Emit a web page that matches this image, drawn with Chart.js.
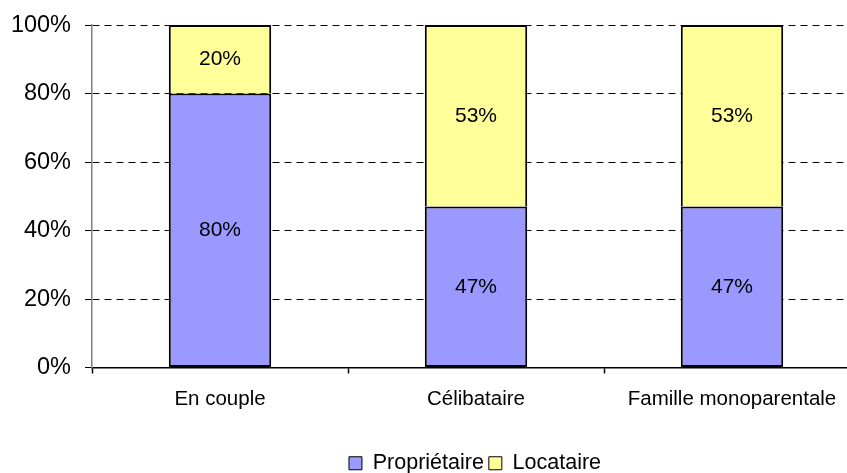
<!DOCTYPE html>
<html>
<head>
<meta charset="utf-8">
<script src="https://cdn.jsdelivr.net/npm/chart.js@4"></script>
<style>
  html, body { margin: 0; padding: 0; background: #fff; overflow: hidden; }
  #wrap { position: relative; width: 950px; height: 487px; margin-top: -3px; }
</style>
</head>
<body>
<div id="wrap"><canvas id="c" width="950" height="487"></canvas></div>
<script>
const categories = ["En couple", "Célibataire", "Famille monoparentale"];
const seriesNames = ["Propriétaire", "Locataire"];
const proprietaire = [80, 47, 47];
const locataire = [20, 53, 53];
const yTicks = [0, 20, 40, 60, 80, 100];

const FONT = "'Liberation Sans', Arial, sans-serif";

const labelPlugin = {
  id: 'barLabels',
  afterDatasetsDraw(chart) {
    const ctx = chart.ctx;
    ctx.save();
    ctx.font = "21px " + FONT;
    ctx.fillStyle = "#000";
    ctx.textAlign = "center";
    ctx.textBaseline = "middle";
    chart.data.datasets.forEach((ds, di) => {
      const meta = chart.getDatasetMeta(di);
      meta.data.forEach((el, i) => {
        const p = el.getCenterPoint();
        ctx.fillText(ds.data[i] + "%", p.x, p.y);
      });
    });
    ctx.restore();
  }
};

new Chart(document.getElementById('c'), {
  type: 'bar',
  data: {
    labels: categories,
    datasets: [
      {
        label: seriesNames[0],
        data: proprietaire,
        backgroundColor: '#9999FF',
        borderColor: '#000',
        borderWidth: 2,
        borderSkipped: false,
        barPercentage: 0.4,
        categoryPercentage: 1
      },
      {
        label: seriesNames[1],
        data: locataire,
        backgroundColor: '#FFFF99',
        borderColor: '#000',
        borderWidth: 2,
        borderSkipped: 'start',
        barPercentage: 0.4,
        categoryPercentage: 1
      }
    ]
  },
  options: {
    responsive: false,
    animation: false,
    devicePixelRatio: 1,
    layout: { padding: { top: 22, left: 0, right: 0, bottom: 0 } },
    plugins: {
      tooltip: { enabled: false },
      legend: {
        position: 'bottom',
        labels: {
          font: { family: FONT, size: 21.5, lineHeight: 1 },
          color: '#000',
          boxWidth: 13,
          boxHeight: 13,
          padding: 5,
          generateLabels: (chart) => {
            const items = Chart.defaults.plugins.legend.labels.generateLabels(chart);
            items.forEach(it => { it.lineWidth = 1; });
            return items;
          }
        }
      }
    },
    scales: {
      x: {
        stacked: true,
        offset: true,
        afterFit: (s) => { s.height = 80; },
        grid: {
          offset: true,
          drawOnChartArea: false,
          drawTicks: true,
          tickLength: 6,
          tickColor: '#000',
          tickWidth: 1.5
        },
        border: { display: true, color: '#000', width: 1.5 },
        ticks: {
          font: { family: FONT, size: 20.5 },
          color: '#000',
          padding: 14,
          maxRotation: 0,
          autoSkip: false
        }
      },
      y: {
        stacked: true,
        min: 0,
        max: 100,
        afterFit: (s) => { s.width = 92; },
        afterBuildTicks: (s) => { s.ticks = yTicks.map(v => ({ value: v })); },
        grid: {
          color: (c) => (c.tick && c.tick.value === 0) ? 'rgba(0,0,0,0)' : '#000',
          lineWidth: 1,
          tickLength: 7,
          tickColor: '#000',
          tickBorderDash: [],
          tickWidth: 1
        },
        border: { display: true, color: '#808080', width: 1.5, dash: [7, 5] },
        ticks: {
          font: { family: FONT, size: 23.5 },
          color: '#000',
          padding: 14,
          callback: (v) => v + '%'
        }
      },
      y2: {
        position: 'right',
        display: true,
        afterFit: (s) => { s.width = 90; },
        grid: { display: false, drawTicks: false },
        border: { display: false },
        ticks: { display: false }
      }
    }
  },
  plugins: [labelPlugin]
});
</script>
</body>
</html>
